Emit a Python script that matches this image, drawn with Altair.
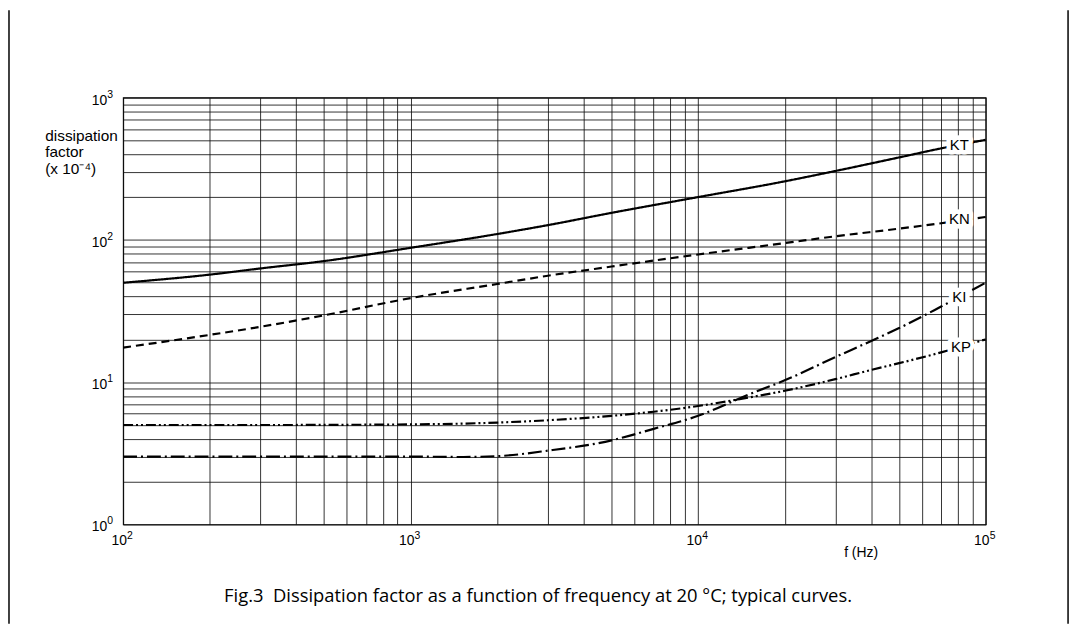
import altair as alt
import pandas as pd

# ---------------- data ----------------
kt_f = [100, 200, 300, 500, 1000, 2000, 3000, 5000, 10000, 20000, 30000, 50000, 70000, 100000]
kt_v = [50, 57, 63, 71, 88, 110, 127, 155, 200, 258, 305, 380, 440, 505]

kn_f = [100, 200, 300, 500, 1000, 2000, 3000, 5000, 10000, 20000, 30000, 50000, 70000, 100000]
kn_v = [17.5, 21.5, 24.5, 29.5, 39, 49, 56, 65, 79, 95, 106, 120, 131, 145]

ki_f = [100, 300, 1000, 1500, 2000, 3000, 5000, 7000, 10000, 15000, 20000, 30000, 40000, 50000, 70000, 100000]
ki_v = [3.0, 3.0, 3.0, 2.98, 3.02, 3.3, 3.9, 4.7, 5.8, 8.2, 10.3, 15, 19.5, 24, 34, 50]

kp_f = [100, 300, 1000, 2000, 3000, 5000, 7000, 10000, 15000, 20000, 30000, 40000, 50000, 70000, 100000]
kp_v = [5.0, 5.0, 5.05, 5.2, 5.4, 5.8, 6.2, 6.8, 7.8, 8.7, 10.5, 12.2, 13.6, 16.2, 20]

series_names = ["KT", "KN", "KI", "KP"]
label_f = [81000, 81000, 81000, 82000]
label_v = [467, 140, 39.6, 17.8]

x_exps = [2, 3, 4, 5]
y_exps = [0, 1, 2, 3]

y_title = ["dissipation", "factor", "(x 10\u207b\u2074)"]
x_title = "f (Hz)"
code_text = "CBA002"
caption = "Fig.3\u00a0 Dissipation factor as a function of frequency at 20 \u00b0C; typical curves."

# ---------------- tables ----------------
rows = []
for name, fs, vs in [("KT", kt_f, kt_v), ("KN", kn_f, kn_v), ("KI", ki_f, ki_v), ("KP", kp_f, kp_v)]:
    for f, v in zip(fs, vs):
        rows.append({"series": name, "f": f, "v": v})
curves = pd.DataFrame(rows)

labels = pd.DataFrame({"name": series_names, "f": label_f, "v": label_v})
xticks = pd.DataFrame({"f": [10 ** e for e in x_exps], "v": [1] * len(x_exps),
                       "base": ["10"] * len(x_exps), "exp": [str(e) for e in x_exps]})
yticks = pd.DataFrame({"f": [100] * len(y_exps), "v": [10 ** e for e in y_exps],
                       "base": ["10"] * len(y_exps), "exp": [str(e) for e in y_exps]})

x_grid = [m * 10 ** e for e in range(2, 5) for m in range(1, 10)] + [100000]
y_grid = [m * 10 ** e for e in range(0, 3) for m in range(1, 10)] + [1000]

FONT = "Liberation Sans"

xs = alt.Scale(type="log", domain=[100, 100000], nice=False)
ys = alt.Scale(type="log", domain=[1, 1000], nice=False)

x_axis = alt.Axis(values=x_grid, grid=True, labels=False, ticks=False, domain=False,
                  gridColor="#111111", gridWidth=1, gridOpacity=0.85,
                  title=x_title, titleX=743, titleY=28, titleAlign="center",
                  titleBaseline="middle", titleFontSize=14, titleFontWeight="normal",
                  titleFont=FONT, titleColor="black")
y_axis = alt.Axis(values=y_grid, grid=True, labels=False, ticks=False, domain=False,
                  gridColor="#111111", gridWidth=1, gridOpacity=0.85,
                  title=y_title, titleAngle=0, titleX=-79, titleY=31, titleAlign="left",
                  titleBaseline="top", titleLineHeight=16.5, titleFontSize=15.5,
                  titleFontWeight="normal", titleFont=FONT, titleColor="black")

X = alt.X("f:Q", scale=xs, axis=x_axis)
Y = alt.Y("v:Q", scale=ys, axis=y_axis)

dashes = {"KT": [1, 0], "KN": [8, 5], "KI": [14, 4, 2, 4], "KP": [10, 3, 2, 3, 2, 3]}

layers = []
for name in series_names:
    layers.append(
        alt.Chart(curves).transform_filter(alt.datum.series == name)
        .mark_line(color="black", strokeWidth=2.2, strokeDash=dashes[name],
                   interpolate="monotone")
        .encode(x=X, y=Y, order="f:Q")
    )

halo = alt.Chart(labels).mark_text(font=FONT, fontSize=15, stroke="white", strokeWidth=9,
                                   strokeJoin="round", fill="white",
                                   align="center", baseline="middle").encode(x=X, y=Y, text="name:N")
lab = alt.Chart(labels).mark_text(font=FONT, fontSize=15, color="black",
                                  align="center", baseline="middle").encode(x=X, y=Y, text="name:N")

xt_base = alt.Chart(xticks).mark_text(font=FONT, fontSize=14, color="black", align="center",
                                      baseline="middle", dx=-4, dy=17).encode(x=X, y=Y, text="base:N")
xt_exp = alt.Chart(xticks).mark_text(font=FONT, fontSize=10.5, color="black", align="left",
                                     baseline="middle", dx=4, dy=12).encode(x=X, y=Y, text="exp:N")
yt_base = alt.Chart(yticks).mark_text(font=FONT, fontSize=14, color="black", align="right",
                                      baseline="middle", dx=-16, dy=3).encode(x=X, y=Y, text="base:N")
yt_exp = alt.Chart(yticks).mark_text(font=FONT, fontSize=10.5, color="black", align="left",
                                     baseline="middle", dx=-16, dy=-3).encode(x=X, y=Y, text="exp:N")

one = pd.DataFrame({"t": [caption]})
cap = alt.Chart(one).mark_text(font="Open Sans", fontSize=18.5, color="black", align="center",
                               baseline="middle").encode(x=alt.value(418), y=alt.value(502), text="t:N")
border_l = alt.Chart(one).mark_rule(color="black", strokeWidth=1.5).encode(
    x=alt.value(-115), y=alt.value(-88), y2=alt.value(530))
border_r = alt.Chart(one).mark_rule(color="black", strokeWidth=1.5).encode(
    x=alt.value(952), y=alt.value(-88), y2=alt.value(530))

chart = alt.layer(*layers, halo, lab, xt_base, xt_exp, yt_base, yt_exp, cap, border_l, border_r).properties(
    width=869, height=430,
    padding={"left": 116, "top": 88, "right": 90, "bottom": 100},
    autosize=alt.AutoSizeParams(type="none"),
    title=alt.TitleParams(code_text, anchor="end", fontStyle="italic", fontSize=10,
                          fontWeight="normal", font=FONT, offset=5, color="black"),
    background="white",
).configure_view(stroke="black", strokeWidth=1.2)

chart.save("out.html", embed_options={"renderer": "svg", "actions": False})
